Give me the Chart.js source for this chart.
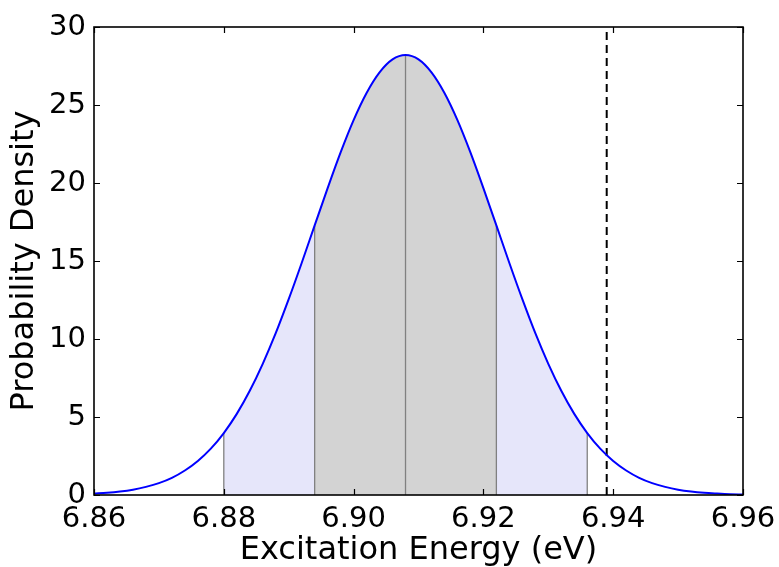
<!DOCTYPE html>
<html>
<head>
<meta charset="utf-8">
<script src="https://cdn.jsdelivr.net/npm/chart.js@4"></script>
<style>
  html, body { margin: 0; padding: 0; background: #fff; }
  #wrap { width: 779px; height: 567px; }
</style>
</head>
<body>
<div id="wrap"><canvas id="chart" width="779" height="567"></canvas></div>
<script>
// valores
const energy = [
  6.860, 6.862, 6.864, 6.866, 6.868, 6.870, 6.872, 6.874, 6.876, 6.878,
  6.880, 6.882, 6.884, 6.886, 6.888, 6.890, 6.892, 6.894, 6.896, 6.898,
  6.900, 6.902, 6.904, 6.906, 6.908, 6.910, 6.912, 6.914, 6.916, 6.918,
  6.920, 6.922, 6.924, 6.926, 6.928, 6.930, 6.932, 6.934, 6.936, 6.938,
  6.940, 6.942, 6.944, 6.946, 6.948, 6.950, 6.952, 6.954, 6.956, 6.958,
  6.960
];
const density = [
  0.09, 0.14, 0.22, 0.34, 0.52, 0.76, 1.10, 1.57, 2.18, 2.97,
  3.97, 5.20, 6.68, 8.41, 10.37, 12.55, 14.87, 17.28, 19.67, 21.96,
  24.03, 25.77, 27.09, 27.92, 28.20, 27.92, 27.09, 25.77, 24.03, 21.96,
  19.67, 17.28, 14.87, 12.55, 10.37, 8.41, 6.68, 5.20, 3.97, 2.97,
  2.18, 1.57, 1.10, 0.76, 0.52, 0.34, 0.22, 0.14, 0.09, 0.05,
  0.03
];
const meanEnergy = 6.908;
const oneSigmaRange = [6.894, 6.922];
const twoSigmaRange = [6.880, 6.936];
const markerEnergy = 6.939;
const xTicks = [6.86, 6.88, 6.90, 6.92, 6.94, 6.96];
const yTicks = [0, 5, 10, 15, 20, 25, 30];

const FONT = "'DejaVu Sans', 'Liberation Sans', sans-serif";

// --- helpers ---
const curve = energy.map((e, i) => ({ x: e, y: density[i] }));
const between = (lo, hi) => curve.filter(p => p.x >= lo - 1e-9 && p.x <= hi + 1e-9);
const densityAt = (e) => curve.find(p => Math.abs(p.x - e) < 1e-9).y;
const vline = (e, top, order, color, width, dash) => ({
  data: [{ x: e, y: 0 }, { x: e, y: top }],
  borderColor: color, borderWidth: width, borderDash: dash || [],
  pointRadius: 0, fill: false, tension: 0, order
});

const sigmaLines = [twoSigmaRange[0], oneSigmaRange[0], meanEnergy, oneSigmaRange[1], twoSigmaRange[1]]
  .map(e => vline(e, densityAt(e), 2, '#808080', 1.3));

// moldura + ticks para dentro (estilo matplotlib)
const frameTicks = {
  id: 'frameTicks',
  afterDraw(chart) {
    const { ctx, chartArea: a, scales: { x, y } } = chart;
    const len = 6;
    ctx.save();
    ctx.strokeStyle = '#000';
    ctx.lineWidth = 1.2;
    ctx.beginPath();
    xTicks.forEach(v => {
      const px = Math.round(x.getPixelForValue(v)) + 0.5;
      ctx.moveTo(px, a.bottom); ctx.lineTo(px, a.bottom - len);
      ctx.moveTo(px, a.top); ctx.lineTo(px, a.top + len);
    });
    yTicks.forEach(v => {
      const py = Math.round(y.getPixelForValue(v)) + 0.5;
      ctx.moveTo(a.left, py); ctx.lineTo(a.left + len, py);
      ctx.moveTo(a.right, py); ctx.lineTo(a.right - len, py);
    });
    ctx.stroke();
    ctx.lineWidth = 1.6;
    ctx.strokeRect(a.left, a.top, a.right - a.left, a.bottom - a.top);
    ctx.restore();
  }
};

new Chart(document.getElementById('chart'), {
  type: 'line',
  data: {
    datasets: [
      {
        data: curve, borderColor: '#0000ff', borderWidth: 2,
        pointRadius: 0, fill: false, cubicInterpolationMode: 'monotone', order: 0
      },
      vline(markerEnergy, 30, 1, '#000000', 2, [8, 5]),
      ...sigmaLines,
      {
        data: between(oneSigmaRange[0], oneSigmaRange[1]),
        borderWidth: 0, borderColor: 'rgba(0,0,0,0)', backgroundColor: '#d3d3d3',
        pointRadius: 0, fill: 'origin', cubicInterpolationMode: 'monotone', order: 3
      },
      {
        data: between(twoSigmaRange[0], twoSigmaRange[1]),
        borderWidth: 0, borderColor: 'rgba(0,0,0,0)', backgroundColor: '#e6e6fa',
        pointRadius: 0, fill: 'origin', cubicInterpolationMode: 'monotone', order: 4
      }
    ]
  },
  options: {
    responsive: false,
    animation: false,
    layout: { padding: { top: 27, right: 36, left: 0, bottom: 0 } },
    plugins: { legend: { display: false }, tooltip: { enabled: false } },
    scales: {
      x: {
        type: 'linear', min: 6.86, max: 6.96,
        afterBuildTicks: s => { s.ticks = xTicks.map(v => ({ value: v })); },
        afterFit: s => { s.height = 72; s.paddingLeft = 0; s.paddingRight = 0; },
        grid: { display: false, drawTicks: false },
        border: { display: false },
        ticks: {
          padding: 7, color: '#000', maxRotation: 0, autoSkip: false,
          font: { family: FONT, size: 29 },
          callback: v => v.toFixed(2)
        },
        title: {
          display: true, text: 'Excitation Energy (eV)', color: '#000',
          font: { family: FONT, size: 32 }, padding: { top: 0, bottom: -3 }
        }
      },
      y: {
        min: 0, max: 30,
        afterBuildTicks: s => { s.ticks = yTicks.map(v => ({ value: v })); },
        afterFit: s => { s.width = 94; s.paddingTop = 0; s.paddingBottom = 0; },
        grid: { display: false, drawTicks: false },
        border: { display: false },
        ticks: {
          padding: 8, color: '#000', autoSkip: false,
          font: { family: FONT, size: 29 }
        },
        title: {
          display: true, text: 'Probability Density', color: '#000',
          font: { family: FONT, size: 32 }, padding: { top: 5, bottom: 0 }
        }
      }
    }
  },
  plugins: [frameTicks]
});
</script>
</body>
</html>
